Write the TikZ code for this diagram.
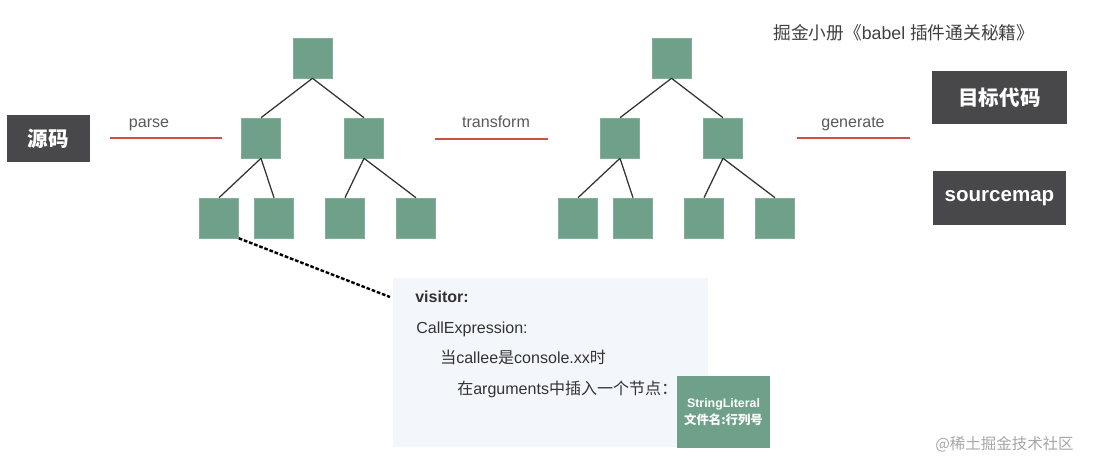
\documentclass[tikz,border=0pt]{standalone}
\usepackage{fontspec}
\setmainfont{Liberation Sans}
\newfontfamily\cjk{Noto Sans CJK SC}
\usepackage{tikz}
\usetikzlibrary{positioning}
\definecolor{verde}{RGB}{110,160,138}
\definecolor{scuro}{RGB}{72,72,74}
\definecolor{rosso}{RGB}{200,82,70}
\definecolor{sfondo}{RGB}{243,246,251}

\begin{document}
\begin{tikzpicture}[x=0.025cm, y=-0.025cm,
    quadrato/.style = {fill=verde, draw=verde!85!white, minimum width=0.975cm, minimum height=1cm, inner sep=0pt},
    blocco/.style = {fill=scuro, text=white, inner sep=0pt, font=\bfseries\fontsize{14.6}{16}\selectfont},
    ramo/.style = {draw=black!80, line width=0.9pt},
    sottolineato/.style = {draw=rosso, line width=1.6pt},
    etichetta/.style = {anchor=base, inner sep=0pt, text=black!65, font=\fontsize{11.4}{13}\selectfont},
    riga/.style = {anchor=base west, inner sep=0pt, text=black!80, font=\fontsize{11.4}{13}\selectfont}]
    % Parametri
    \pgfmathsetmacro{\passo}{359}
    \useasboundingbox (0,0) rectangle (1098,469);
    % Alberi
    \foreach \k in {0,1} {
        \pgfmathsetmacro{\dx}{\k*\passo}
        \node[quadrato] (radice\k) at (312.5+\dx,58) {};
        \node[quadrato] (sx\k) at (261+\dx,138) {};
        \node[quadrato] (dx\k) at (364+\dx,138) {};
        \node[quadrato] (f\k1) at (219+\dx,218) {};
        \node[quadrato] (f\k2) at (274+\dx,218) {};
        \node[quadrato] (f\k3) at (345+\dx,218) {};
        \node[quadrato] (f\k4) at (416+\dx,218) {};
        \draw[ramo] (radice\k.south) -- (sx\k.north);
        \draw[ramo] (radice\k.south) -- (dx\k.north);
        \draw[ramo] (sx\k.south) -- (f\k1.north);
        \draw[ramo] (sx\k.south) -- (f\k2.north);
        \draw[ramo] (dx\k.south) -- (f\k3.north);
        \draw[ramo] (dx\k.south) -- (f\k4.north);
    }
    % Blocchi
    \node[blocco, minimum width=2.075cm, minimum height=1.175cm] (sorgente) at (48.5,138.5) {\cjk\bfseries 源码};
    \node[blocco, minimum width=3.375cm, minimum height=1.325cm] (destinazione) at (999.5,97.5) {\cjk\bfseries 目标代码};
    \node[blocco, minimum width=3.325cm, minimum height=1.35cm] (mappa) at (999.5,198) {sourcemap};
    % Fasi
    \draw[sottolineato] (110,138) -- (222,138);
    \node[etichetta] (parse) at (149,127) {parse};
    \draw[sottolineato] (435,139) -- (548,139);
    \node[etichetta] (transform) at (496,127) {transform};
    \draw[sottolineato] (797,138) -- (910,138);
    \node[etichetta] (generate) at (853,127) {generate};
    % Visitor
    \node[fill=sfondo, minimum width=7.875cm, minimum height=4.225cm, inner sep=0pt] (visitor) at (550.5,362.5) {};
    \coordinate (aggancio) at (390,297);
    \draw[line width=1.7pt, dash pattern=on 2.6pt off 1.3pt] (f01.south east) -- (aggancio);
    \node[riga, font=\bfseries\fontsize{11.4}{13}\selectfont] (r1) at (415,302) {visitor:};
    \node[riga] (r2) at (416,333) {CallExpression:};
    \node[riga] (r3) at (440,363) {{\cjk 当}callee{\cjk 是}console.xx{\cjk 时}};
    \node[riga] (r4) at (457,394) {{\cjk 在}arguments{\cjk 中插入一个节点：}};
    \node[fill=verde, minimum width=2.325cm, minimum height=1.8cm, inner sep=0pt, align=center,
          text=white, font=\bfseries\fontsize{8.8}{12}\selectfont] (letterale) at (723.5,412)
          {StringLiteral\\{\cjk\bfseries 文件名:行列号}};
    % Scritte
    \node[riga, text=black!75, font=\fontsize{12.6}{14}\selectfont] (titolo) at (773,39) {{\cjk 掘金小册《}babel {\cjk 插件通关秘籍》}};
    \node[riga, text=black!35, font=\cjk\fontsize{11}{13}\selectfont] (firma) at (935,449) {@稀土掘金技术社区};
\end{tikzpicture}
\end{document}
